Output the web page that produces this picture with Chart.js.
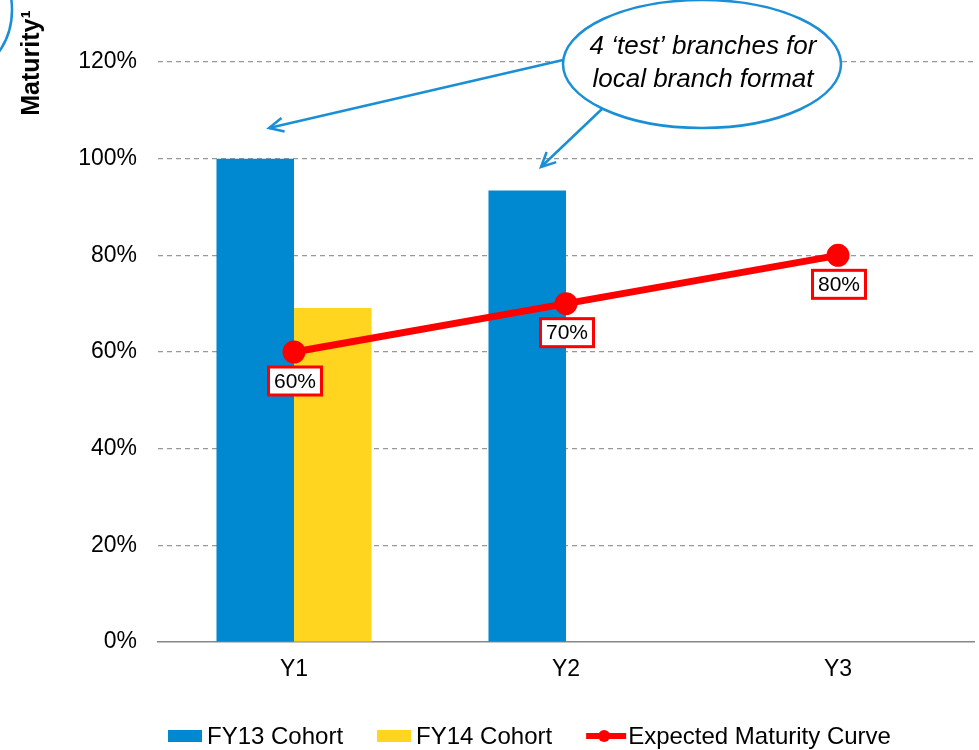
<!DOCTYPE html>
<html>
<head>
<meta charset="utf-8">
<script src="https://cdn.jsdelivr.net/npm/chart.js@4/dist/chart.umd.min.js"></script>
<style>
  html, body { margin: 0; padding: 0; background: #fff; }
  canvas { display: block; }
</style>
</head>
<body>
<canvas id="theGraph" width="979" height="750"></canvas>
<script>
// chart values
var categories = ["Y1", "Y2", "Y3"];
var fy13Cohort = [100, 93.4, null];
var fy14Cohort = [69.1, null, null];
var expectedCurve = [60, 70, 80];
var yTicks = [0, 20, 40, 60, 80, 100, 120];

var BLUE = '#0089D1';
var YELLOW = '#FFD51F';
var RED = '#FF0000';
var FONT = '"Liberation Sans", Arial, sans-serif';

// value boxes under the line points
var lineLabels = {
  id: 'lineLabels',
  afterDatasetsDraw: function (chart) {
    var ctx = chart.ctx;
    var meta = chart.getDatasetMeta(2);
    ctx.save();
    ctx.font = '21px ' + FONT;
    ctx.textAlign = 'center';
    ctx.textBaseline = 'middle';
    meta.data.forEach(function (pt, i) {
      var txt = expectedCurve[i] + '%';
      var cx = pt.x + 1, cy = pt.y + 29;
      var w = 53, h = 28;
      ctx.fillStyle = '#fff';
      ctx.fillRect(cx - w / 2, cy - h / 2, w, h);
      ctx.strokeStyle = RED; ctx.lineWidth = 3;
      ctx.strokeRect(cx - w / 2, cy - h / 2, w, h);
      ctx.fillStyle = '#000';
      ctx.fillText(txt, cx, cy + 1);
    });
    ctx.restore();
  }
};

// legend drawn by hand so the swatches look like the original
var bottomLegend = {
  id: 'bottomLegend',
  afterDraw: function (chart) {
    var ctx = chart.ctx;
    var y = 736;
    var x = 168;
    ctx.save();
    ctx.font = '24px ' + FONT;
    ctx.textBaseline = 'middle';
    ctx.fillStyle = '#000';
    chart.data.datasets.forEach(function (ds) {
      if (ds.type === 'bar') {
        ctx.fillStyle = ds.backgroundColor;
        ctx.fillRect(x, y - 6, 34, 12);
        x += 39;
      } else {
        ctx.strokeStyle = ds.borderColor; ctx.lineWidth = 6;
        ctx.beginPath(); ctx.moveTo(x, y); ctx.lineTo(x + 40, y); ctx.stroke();
        ctx.fillStyle = ds.borderColor;
        ctx.beginPath(); ctx.arc(x + 18, y, 6, 0, Math.PI * 2); ctx.fill();
        x += 42;
      }
      ctx.fillStyle = '#000';
      ctx.fillText(ds.label, x, y + 1);
      x += ctx.measureText(ds.label).width + 34;
    });
    ctx.restore();
  }
};

// callout, arrows, axis title, stray circle
function arrow(ctx, x1, y1, x2, y2) {
  var a = Math.atan2(y2 - y1, x2 - x1), L = 16, s = 0.45;
  ctx.beginPath(); ctx.moveTo(x1, y1); ctx.lineTo(x2, y2); ctx.stroke();
  ctx.beginPath();
  ctx.moveTo(x2 - L * Math.cos(a - s), y2 - L * Math.sin(a - s));
  ctx.lineTo(x2, y2);
  ctx.lineTo(x2 - L * Math.cos(a + s), y2 - L * Math.sin(a + s));
  ctx.stroke();
}
var extras = {
  id: 'extras',
  afterDraw: function (chart) {
    var ctx = chart.ctx;
    ctx.save();
    ctx.strokeStyle = '#1A8FD6';
    ctx.lineWidth = 2.5;
    arrow(ctx, 563, 60, 269, 128);
    arrow(ctx, 603, 108, 541, 167);
    ctx.beginPath();
    ctx.ellipse(702, 64, 139, 64, 0, 0, Math.PI * 2);
    ctx.fillStyle = '#fff'; ctx.fill(); ctx.stroke();
    ctx.fillStyle = '#000';
    ctx.font = 'italic 26px ' + FONT;
    ctx.textAlign = 'center'; ctx.textBaseline = 'middle';
    ctx.fillText('4 \u2018test\u2019 branches for', 703, 47);
    ctx.fillText('local branch format', 703, 80);

    ctx.beginPath();
    ctx.arc(-61, 10, 73, -Math.PI / 2, Math.PI / 2);
    ctx.stroke();

    ctx.translate(32, 63);
    ctx.rotate(-Math.PI / 2);
    ctx.font = 'bold 25px ' + FONT;
    ctx.fillText('Maturity\u00B9', 0, 0);
    ctx.restore();
  }
};

var chart = new Chart(document.getElementById('theGraph').getContext('2d'), {
  data: {
    labels: categories,
    datasets: [{
      type: 'bar',
      label: 'FY13 Cohort',
      data: fy13Cohort,
      backgroundColor: BLUE,
      categoryPercentage: 0.57,
      barPercentage: 1,
      order: 2
    }, {
      type: 'bar',
      label: 'FY14 Cohort',
      data: fy14Cohort,
      backgroundColor: YELLOW,
      categoryPercentage: 0.57,
      barPercentage: 1,
      order: 2
    }, {
      type: 'line',
      label: 'Expected Maturity Curve',
      data: expectedCurve,
      borderColor: RED,
      backgroundColor: RED,
      borderWidth: 7,
      pointRadius: 8,
      pointHoverRadius: 8,
      order: 1
    }]
  },
  options: {
    responsive: false,
    animation: false,
    layout: { autoPadding: false, padding: { top: 62, left: 0, right: 5, bottom: 0 } },
    plugins: {
      tooltip: { enabled: false },
      legend: { display: false }
    },
    scales: {
      x: {
        grid: { display: false, drawTicks: false },
        border: { display: true, color: '#888', width: 1.5 },
        ticks: { font: { family: FONT, size: 23 }, color: '#000', padding: 14 },
        afterFit: function (s) { s.height = 108; }
      },
      y: {
        min: 0,
        max: 120,
        afterBuildTicks: function (s) { s.ticks = yTicks.map(function (v) { return { value: v }; }); },
        grid: {
          color: function (c) { return c.tick && c.tick.value === 0 ? 'transparent' : '#999'; },
          lineWidth: 1.2,
          drawTicks: false
        },
        border: { display: false, dash: [5, 4] },
        ticks: {
          font: { family: FONT, size: 23 },
          color: '#000',
          padding: 21,
          callback: function (v) { return v + '%'; }
        },
        afterFit: function (s) { s.width = 158; }
      }
    }
  },
  plugins: [lineLabels, bottomLegend, extras]
});
</script>
</body>
</html>
